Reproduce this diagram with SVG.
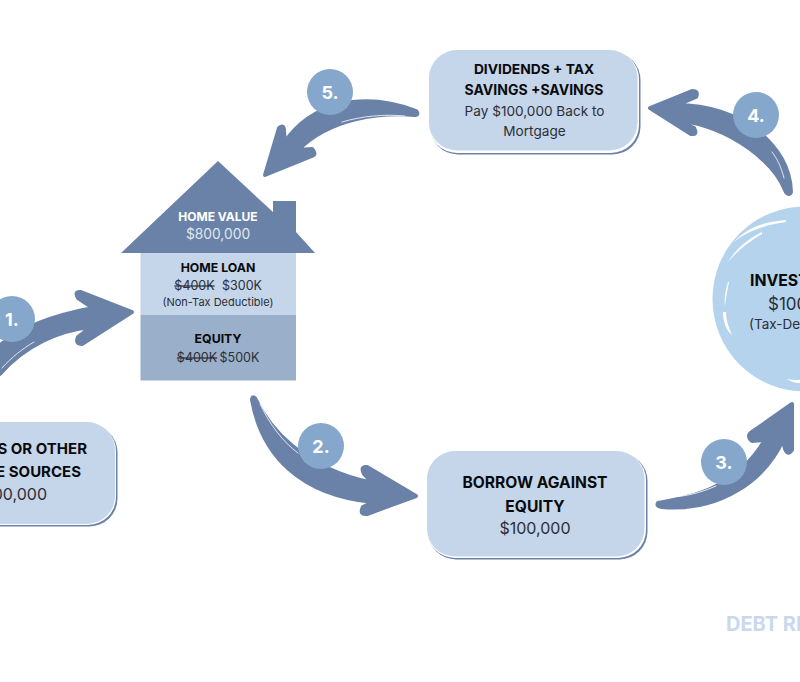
<svg xmlns="http://www.w3.org/2000/svg" width="800" height="682" viewBox="0 0 800 682">
<style>
text{font-family:"Inter","Liberation Sans",sans-serif;text-anchor:middle}
.b{font-weight:700;fill:#0a0a0a}
.r{font-weight:400;fill:#2b2f36}
.arrow{fill:#6b82a8;stroke:#6b82a8;stroke-width:4;stroke-linejoin:round}
.glint{fill:none;stroke:#fff;stroke-width:.8;stroke-linecap:round}
.badge{fill:#86a7cc}
.num{font-weight:700;font-size:18px;fill:#fff}
.card{fill:#c5d5ea}.edge{fill:#6b82a8}.gap{fill:#fff}
.brush{fill:#fff}
</style>
<rect width="800" height="682" fill="#fff"/>
<g id="connectors">
<path class="arrow" d="M-5,350C10,335 40,318 93,308L78,298Q74,291 81,292L132,312L82,344Q75,344 78,337L91,327C60,330 25,345 0,374Z"/>
<path class="glint" d="M2,368C12,357 22,349 34,342"/>
<path class="arrow" d="M252,400C252,396 255,397 256,400C268,425 300,468 373,483L364,474Q360,466 367,467L416,496L367,514Q359,515 363,507L373,502C300,495 262,455 252,400Z"/>
<path class="glint" d="M260,404C270,425 283,442 298,453"/>
<path class="arrow" d="M658,503C690,497 735,490 765,440L752,441Q746,436 752,432L792,404L792,450Q788,456 785,449L783,440C765,480 720,512 662,507Q656,506 658,503Z"/>
<path class="glint" d="M668,497C685,497 700,493 716,486"/>
<path class="arrow" d="M791,192C789,196 786,193 785,190C775,165 735,127 677,120L694,128Q698,135 691,134L650,108L692,91Q699,91 696,97L677,105C740,105 790,145 791,192Z"/>
<path class="glint" d="M772,152C778,160 781,167 784,178"/>
<path class="arrow" d="M416,111C418,113 418,115 415,115C380,112 330,118 298,150L312,149Q317,154 312,156L265,175L279,128Q284,124 284,131L285,142C310,105 360,90 416,111Z"/>
<path class="glint" d="M342,122C362,116 385,114 405,116"/>
</g>
<g id="house">
<path d="M218,161L273,212V201H296V232L315,253H121Z" fill="#6b82a8"/>
<rect x="140.500" y="253" width="155.500" height="62" fill="#c5d5ea"/>
<rect x="140.500" y="315" width="155.500" height="65.500" fill="#9aafca"/>
<text x="218" y="221" font-size="12" font-weight="700" fill="#fff">HOME VALUE</text>
<text x="218" y="239" font-size="13.800" fill="#dfe6f0">$800,000</text>
<text class="b" x="218" y="272" font-size="12.300">HOME LOAN</text>
<text class="r" x="194.500" y="290" font-size="12.500" text-decoration="line-through">$400K</text>
<text class="r" x="242" y="290" font-size="12.500">$300K</text>
<text class="r" x="218" y="306" font-size="11">(Non-Tax Deductible)</text>
<text class="b" x="218" y="343" font-size="12.300">EQUITY</text>
<text class="r" x="197" y="362" font-size="12.500" text-decoration="line-through">$400K</text>
<text class="r" x="239.500" y="362" font-size="12.500">$500K</text>
</g>
<g id="node-income">
<rect class="edge" x="-60" y="424.500" width="177.500" height="102" rx="28"/>
<rect class="gap" x="-60" y="423" width="176" height="102" rx="28"/>
<rect class="card" x="-60" y="422" width="175" height="102" rx="28"/>
<text class="b" x="87" y="454" font-size="15" style="text-anchor:end">S OR OTHER</text>
<text class="b" x="81" y="477" font-size="15" style="text-anchor:end">E SOURCES</text>
<text class="r" x="47" y="500" font-size="16" style="text-anchor:end">00,000</text>
</g>
<g id="node-borrow">
<rect class="edge" x="428" y="453" width="219.500" height="106.500" rx="28"/>
<rect class="gap" x="427" y="452" width="219" height="106" rx="28"/>
<rect class="card" x="427" y="451" width="217.500" height="105.500" rx="28"/>
<text class="b" x="535" y="488" font-size="15.600">BORROW AGAINST</text>
<text class="b" x="535" y="512" font-size="15.600">EQUITY</text>
<text class="r" x="535" y="534" font-size="16">$100,000</text>
</g>
<g id="node-dividends">
<rect class="edge" x="430" y="52" width="210.500" height="102.500" rx="28"/>
<rect class="gap" x="429" y="51" width="210" height="102" rx="28"/>
<rect class="card" x="429" y="50" width="208.500" height="100.500" rx="28"/>
<text class="b" x="534" y="74" font-size="13.800">DIVIDENDS + TAX</text>
<text class="b" x="534" y="95" font-size="14">SAVINGS +SAVINGS</text>
<text class="r" x="534.500" y="116" font-size="13.600">Pay $100,000 Back to</text>
<text class="r" x="534.500" y="136" font-size="13.600">Mortgage</text>
</g>
<g id="node-investment">
<circle cx="805" cy="299" r="92.500" fill="#b5d3ec"/>
<path class="brush" d="M786,220C765,222 748,226 733,243C746,231 765,225 786,222Z"/>
<path class="brush" d="M762,232C750,238 738,246 728,262C738,250 750,241 762,234Z"/>
<path class="brush" d="M728,282C725,292 724,300 725,306C726,298 727,291 729,282Z"/>
<path class="brush" d="M723,312C723,322 726,330 732,335C729,328 726,320 726,312Z"/>
<path class="brush" d="M787,379C793,383 797,383 800,383V380C796,380 792,380 787,379Z"/>
<text class="b" x="750" y="286" font-size="15.800" style="text-anchor:start">INVEST</text>
<text class="r" x="768" y="310" font-size="17" style="text-anchor:start">$100</text>
<text class="r" x="749" y="329" font-size="13.500" style="text-anchor:start">(Tax-De</text>
</g>
<g id="badge-1"><circle class="badge" cx="12" cy="319" r="23"/><text class="num" x="12" y="326">1.</text></g>
<g id="badge-2"><circle class="badge" cx="321" cy="446" r="23"/><text class="num" x="321" y="453">2.</text></g>
<g id="badge-3"><circle class="badge" cx="724" cy="462" r="23"/><text class="num" x="724" y="469">3.</text></g>
<g id="badge-4"><circle class="badge" cx="756" cy="115" r="23"/><text class="num" x="756" y="122">4.</text></g>
<g id="badge-5"><circle class="badge" cx="330" cy="92" r="23"/><text class="num" x="330" y="99">5.</text></g>
<text x="726" y="631" font-size="20" font-weight="700" fill="#c9d8ec" style="text-anchor:start">DEBT RI</text>
</svg>
